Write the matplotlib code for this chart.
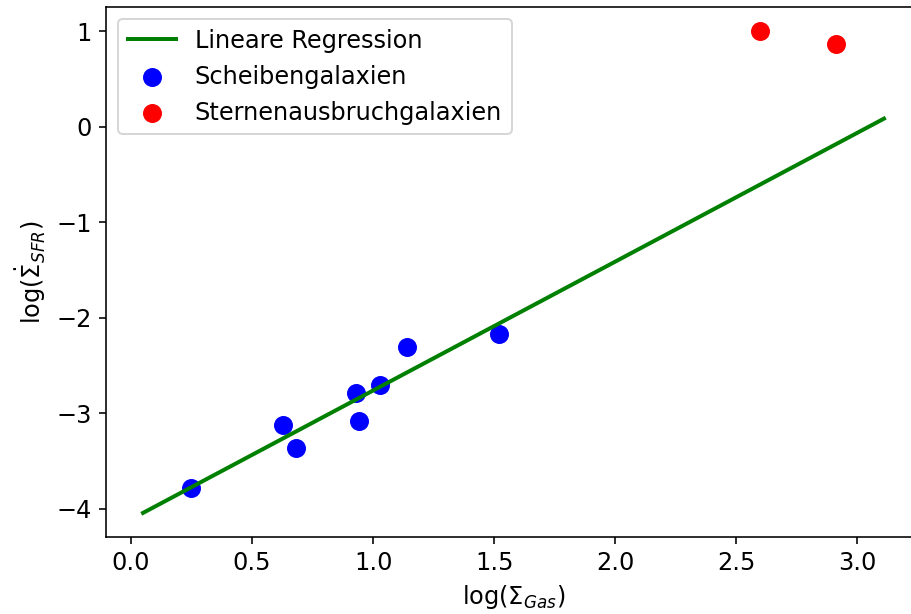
import numpy as np
import matplotlib
matplotlib.use("Agg")
import matplotlib.pyplot as plt

disk_gas = [0.25, 0.63, 0.68, 0.93, 0.94, 1.03, 1.14, 1.52]
disk_sfr = [-3.78, -3.12, -3.37, -2.79, -3.08, -2.71, -2.31, -2.17]
burst_gas = [2.60, 2.91]
burst_sfr = [1.00, 0.86]

# Regressionsgerade
slope = 1.349
intercept = -4.112
x_min, x_max = 0.05, 3.11

plt.rcParams['font.size'] = 12

fig = plt.figure(figsize=(911 / 144, 614 / 144), dpi=144)
ax = fig.add_axes([106 / 911, 1 - 537 / 614, 815 / 911, 530 / 614])

x_fit = np.linspace(x_min, x_max, 100)
ax.plot(x_fit, slope * x_fit + intercept, color='green', linewidth=2, label='Lineare Regression')
ax.scatter(disk_gas, disk_sfr, color='blue', s=72, label='Scheibengalaxien')
ax.scatter(burst_gas, burst_sfr, color='red', s=72, label='Sternenausbruchgalaxien')

ax.set_xlabel(r'$\log(\Sigma_{Gas})$')
ax.set_ylabel(r'$\log(\dot{\Sigma}_{SFR})$')
ax.legend(loc='upper left', scatterpoints=1)

fig.savefig('out.png', dpi=144)
